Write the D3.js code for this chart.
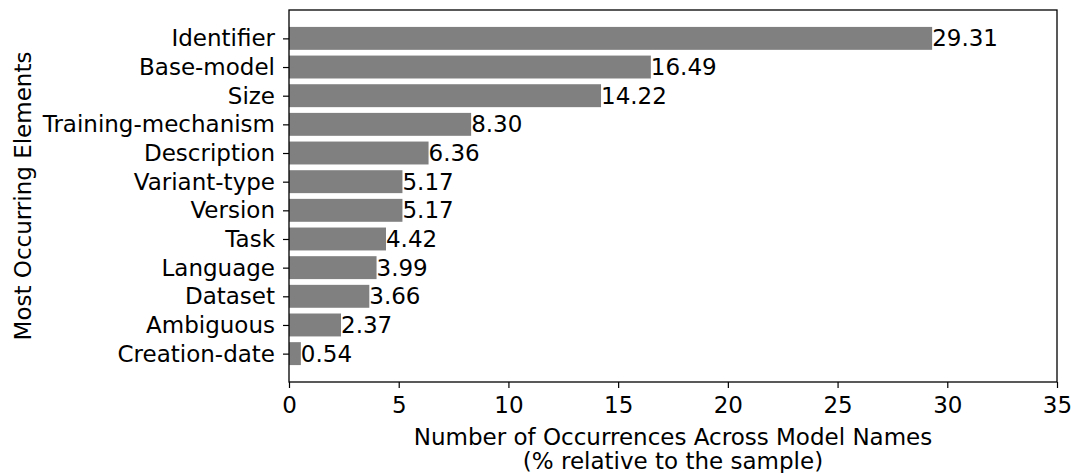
<!DOCTYPE html>
<html>
<head>
<meta charset="utf-8">
<script src="https://cdn.jsdelivr.net/npm/d3@7"></script>
<style>
  body { margin: 0; background: #fff; }
  text { font-family: 'DejaVu Sans', sans-serif; }
</style>
</head>
<body>
<div id="chart"></div>
<script>
const categories = ['Identifier', 'Base-model', 'Size', 'Training-mechanism', 'Description', 'Variant-type',
  'Version', 'Task', 'Language', 'Dataset', 'Ambiguous', 'Creation-date'];
const values = [29.31, 16.49, 14.22, 8.30, 6.36, 5.17, 5.17, 4.42, 3.99, 3.66, 2.37, 0.54];
const xTicks = [0, 5, 10, 15, 20, 25, 30, 35];

const margin = { left: 289, right: 14, top: 10, bottom: 91 };
const W = 1071, H = 473;
const width = W - margin.left - margin.right;
const height = H - margin.top - margin.bottom;
const fontSize = 23;

const svg = d3.select('#chart').append('svg').attr('width', W).attr('height', H);
const g = svg.append('g').attr('transform', 'translate(' + margin.left + ',' + margin.top + ')');

const x = d3.scaleLinear().domain([0, 35]).range([0, width]);
// matplotlib barh: centers at 0..n-1, height 0.8, 5% margins
const n = categories.length;
const lo = -0.4 - 0.05 * (n - 1 + 0.8), hi = n - 1 + 0.4 + 0.05 * (n - 1 + 0.8);
const yc = d3.scaleLinear().domain([lo, hi]).range([0, height]);

// bars
g.selectAll('rect.bar')
  .data(values)
  .enter()
  .append('rect')
  .attr('class', 'bar')
  .attr('x', x(0))
  .attr('y', (d, i) => yc(i - 0.4))
  .attr('width', d => x(d) - x(0))
  .attr('height', yc(0.8) - yc(0))
  .attr('fill', '#808080');

// value labels
g.selectAll('text.val')
  .data(values)
  .enter()
  .append('text')
  .attr('class', 'val')
  .attr('x', d => x(d))
  .attr('y', (d, i) => yc(i))
  .attr('dy', '0.35em')
  .attr('font-size', fontSize + 'px')
  .attr('fill', '#000')
  .text(d => d.toFixed(2));

// x axis
const xAxis = g.append('g')
  .attr('transform', 'translate(0,' + height + ')')
  .call(d3.axisBottom(x).tickValues(xTicks).tickSize(6).tickPadding(9).tickFormat(d3.format('d')));
xAxis.selectAll('text').attr('font-size', fontSize + 'px').attr('font-family', 'DejaVu Sans').attr('fill', '#000');

// y axis
const yAxis = g.append('g')
  .call(d3.axisLeft(yc).tickValues(d3.range(n)).tickSize(6).tickPadding(8).tickFormat(i => categories[i]));
yAxis.selectAll('text').attr('font-size', fontSize + 'px').attr('font-family', 'DejaVu Sans').attr('fill', '#000');
svg.selectAll('.domain').remove();
svg.selectAll('.tick line').attr('stroke', '#000').attr('stroke-width', 1.2);

// frame
g.append('rect')
  .attr('width', width)
  .attr('height', height)
  .attr('fill', 'none')
  .attr('stroke', '#000')
  .attr('stroke-width', 1.3);

// axis labels
const xLabel = g.append('text')
  .attr('x', width / 2)
  .attr('y', height + 63)
  .attr('text-anchor', 'middle')
  .attr('font-size', fontSize + 'px')
  .attr('fill', '#000');
xLabel.append('tspan').attr('x', width / 2).text('Number of Occurrences Across Model Names');
xLabel.append('tspan').attr('x', width / 2).attr('dy', 24).text('(% relative to the sample)');

g.append('text')
  .attr('transform', 'rotate(-90)')
  .attr('x', -height / 2)
  .attr('y', -258)
  .attr('text-anchor', 'middle')
  .attr('font-size', fontSize + 'px')
  .attr('fill', '#000')
  .text('Most Occurring Elements');
</script>
</body>
</html>
